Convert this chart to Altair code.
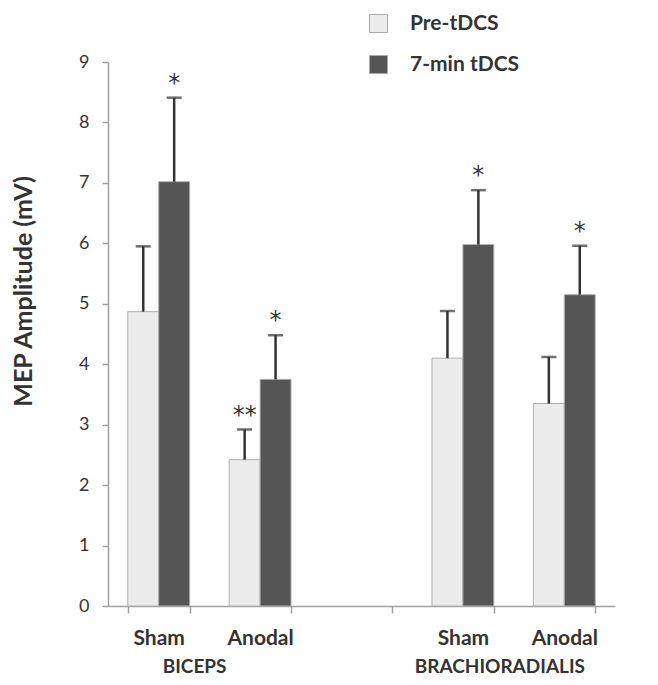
import altair as alt
import pandas as pd

# ---- data ----
cat_keys = ["B_Sham", "B_Anodal", "gap", "R_Sham", "R_Anodal"]
cat_labels = ["Sham", "Anodal", "", "Sham", "Anodal"]
bar_keys = ["B_Sham", "B_Anodal", "R_Sham", "R_Anodal"]
series = ["Pre-tDCS", "7-min tDCS"]
pre_means = [4.87, 2.42, 4.10, 3.35]
pre_sd = [1.08, 0.50, 0.78, 0.77]
post_means = [7.02, 3.75, 5.98, 5.15]
post_sd = [1.39, 0.73, 0.90, 0.81]
pre_marks = ["", "**", "", ""]
post_marks = ["*", "*", "*", "*"]
group_names = ["BICEPS", "BRACHIORADIALIS"]
group_anchor = ["B_Sham", "R_Sham"]
group_dx = [5, 6]
y_ticks = list(range(0, 10))

rows = []
for i, k in enumerate(bar_keys):
    rows.append({"cat": k, "series": series[0], "mean": pre_means[i],
                 "top": pre_means[i] + pre_sd[i], "mark": pre_marks[i]})
    rows.append({"cat": k, "series": series[1], "mean": post_means[i],
                 "top": post_means[i] + post_sd[i], "mark": post_marks[i]})
df = pd.DataFrame(rows)

FONT = "Lato"
TXT = "#333333"
AX = "#a0a0a0"

label_expr = "{" + ",".join(f"'{k}':'{v}'" for k, v in zip(cat_keys, cat_labels)) + "}[datum.value]"

x_enc = alt.X("cat:N", sort=cat_keys,
              scale=alt.Scale(domain=cat_keys, paddingInner=0.39, paddingOuter=0.195),
              axis=alt.Axis(title=None, labelExpr=label_expr, tickBand="extent",
                            labelAngle=0, labelFont=FONT, labelFontSize=21,
                            labelFontWeight="bold", labelColor=TXT, labelPadding=14,
                            domainColor=AX, domainWidth=1.5,
                            tickColor=AX, tickWidth=1.5, tickSize=7))
xoff = alt.XOffset("series:N", sort=series, scale=alt.Scale(domain=series, paddingInner=0))
y_scale = alt.Scale(domain=[0, 9], nice=False)

color = alt.Color("series:N", sort=series,
                  scale=alt.Scale(domain=series, range=["#ececec", "#555555"]),
                  legend=alt.Legend(title=None, orient="none", legendX=260, legendY=-49,
                                    symbolType="square", symbolSize=324,
                                    symbolStrokeColor="#aaaaaa", symbolStrokeWidth=1,
                                    labelFont=FONT, labelFontSize=21, labelFontWeight="bold",
                                    labelColor=TXT, labelOffset=21, rowPadding=18))

bars = alt.Chart(df).mark_bar(stroke="#b0b0b0", strokeWidth=1).encode(
    x=x_enc, xOffset=xoff,
    y=alt.Y("mean:Q", scale=y_scale,
            axis=alt.Axis(title="MEP Amplitude (mV)", values=y_ticks, format="d", grid=False,
                          titleFont=FONT, titleFontSize=25, titleFontWeight="bold",
                          titleColor=TXT, titleX=-85, titleY=229, titleBaseline="middle",
                          labelFont=FONT, labelFontSize=18, labelColor=TXT, labelPadding=13,
                          domainColor=AX, domainWidth=1.5,
                          tickColor=AX, tickWidth=1.5, tickSize=6)),
    color=color,
)

err = alt.Chart(df).mark_rule(color="#333333", strokeWidth=2.5).encode(
    x=alt.X("cat:N", sort=cat_keys), xOffset=xoff,
    y=alt.Y("mean:Q", scale=y_scale), y2="top:Q",
)
caps = alt.Chart(df).mark_tick(color="#333333", thickness=2.5, size=15).encode(
    x=alt.X("cat:N", sort=cat_keys), xOffset=xoff,
    y=alt.Y("top:Q", scale=y_scale),
)
stars = alt.Chart(df).mark_text(font="DejaVu Sans", fontSize=24, color="#333333",
                                baseline="middle", dy=-14).encode(
    x=alt.X("cat:N", sort=cat_keys), xOffset=xoff,
    y=alt.Y("top:Q", scale=y_scale),
    text="mark:N",
)
glayers = []
for name, anchor, dx in zip(group_names, group_anchor, group_dx):
    gdf = pd.DataFrame({"cat": [anchor], "name": [name]})
    glayers.append(alt.Chart(gdf).mark_text(font=FONT, fontSize=19, fontWeight="bold",
                                            color=TXT, baseline="middle", dx=dx).encode(
        x=alt.X("cat:N", sort=cat_keys, bandPosition=1),
        y=alt.value(605),
        text="name:N",
    ))

chart = alt.layer(bars, err, caps, stars, *glayers).properties(
    width=507, height=544,
    autosize=alt.AutoSizeParams(type="none"),
    padding={"left": 100, "top": 54, "right": 35, "bottom": 71},
).configure_view(stroke=None)

chart.save("out.html", embed_options={"renderer": "svg", "actions": False})
